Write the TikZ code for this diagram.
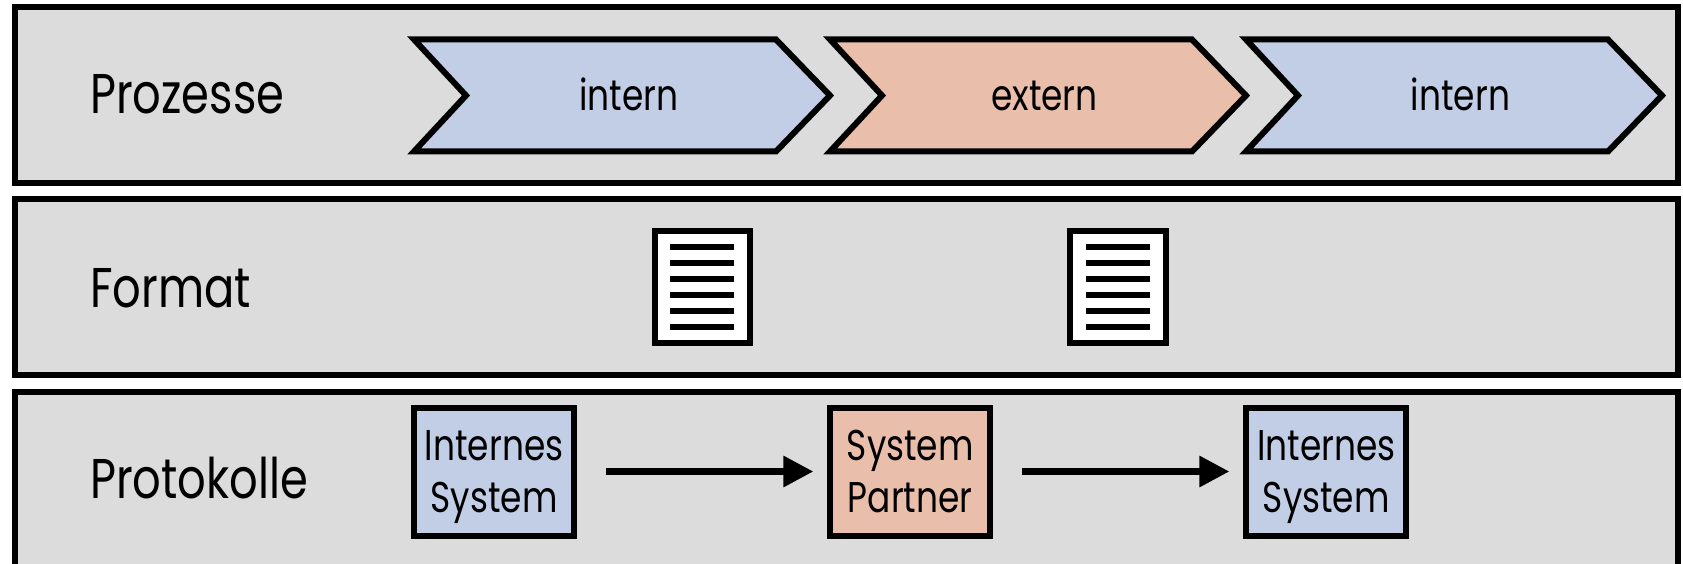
\documentclass[tikz,border=0pt]{standalone}
\usepackage{fontspec}
\setmainfont{Poppins}[FakeStretch=0.8]
\usetikzlibrary{arrows.meta}
\definecolor{panelgrey}{HTML}{DCDCDC}
\definecolor{intblue}{HTML}{C1CEE5}
\definecolor{extsalmon}{HTML}{E9BFAB}
\newcommand{\bigfont}{\fontsize{56}{60}\selectfont}
\newcommand{\smallfont}{\fontsize{43}{52}\selectfont}
\newcommand{\boxtop}{\rule{0pt}{44pt}}
\newcommand{\boxbot}{\rule[-6pt]{0pt}{6pt}}
\tikzset{
  x=1pt,y=-1pt,
  panel/.style={draw=black,fill=panelgrey,line width=6pt},
  chevron/.style={draw=black,line width=6pt,miter limit=10},
  rowlabel/.style={anchor=base west,inner sep=0pt,font=\bigfont,text=black},
  chevlabel/.style={anchor=base,inner sep=0pt,font=\smallfont,text=black},
  sysbox/.style={draw=black,line width=6pt,minimum width=160pt,minimum height=128pt,inner sep=0pt,font=\smallfont,text=black},
  boxline/.style={anchor=base,inner sep=0pt,font=\smallfont,text=black},
  docsheet/.style={draw=black,fill=white,line width=6pt,minimum width=95.5pt,minimum height=112pt,inner sep=0pt},
  docline/.style={line width=6pt,black},
  flow/.style={line width=6.5pt,black,-{Triangle[length=30pt,width=30pt]}},
}
\newcommand{\chev}[2]{\path[chevron,fill=#2] (414+#1,39.5) -- (776+#1,39.5) -- (830+#1,95.5) -- (776+#1,151.5) -- (414+#1,151.5) -- (466+#1,95.5) -- cycle;}
\newcommand{\doclines}[1]{\foreach \yy in {247.3,263.3,279.3,295.3,311.3,327.3}{\draw[docline] (#1-32,\yy) -- (#1+32,\yy);}}
\begin{document}
\begin{tikzpicture}
\useasboundingbox (0,0) rectangle (1683,564);
% panels
\path[panel] (14.5,7.5) rectangle (1678,183);
\path[panel] (14.5,199.5) rectangle (1678,375);
\fill[panelgrey] (14.5,391.5) rectangle (1678,564);
\draw[black,line width=6pt] (14.5,564) -- (14.5,391.5) -- (1678,391.5) -- (1678,564);
% row labels
\node[rowlabel] (lproz) at (90,114) {Prozesse};
\node[rowlabel] (lform) at (90,307) {Format};
\node[rowlabel] (lprot) at (90,498) {Protokolle};
% chevrons
\chev{0}{intblue}
\chev{416}{extsalmon}
\chev{832}{intblue}
\node[chevlabel] (c1) at (628.6,111) {intern};
\node[chevlabel] (c2) at (1044.5,111) {extern};
\node[chevlabel] (c3) at (1460.5,111) {intern};
% documents
\node[docsheet] (d1) at (702.3,287.4) {};
\node[docsheet] (d2) at (1118.2,287.4) {};
\doclines{702.3}
\doclines{1118.2}
% systems
\node[sysbox,fill=intblue] (s1) at (494.2,471.5) {};
\node[sysbox,fill=extsalmon] (s2) at (910.3,471.5) {};
\node[sysbox,fill=intblue] (s3) at (1326.3,471.5) {};
\node[boxline] (s1a) at (494.2,460) {Internes};
\node[boxline] (s1b) at (494.2,512) {System};
\node[boxline] (s2a) at (910.3,460) {System};
\node[boxline] (s2b) at (910.3,512) {Partner};
\node[boxline] (s3a) at (1326.3,460) {Internes};
\node[boxline] (s3b) at (1326.3,512) {System};
\draw[flow,shorten <=29pt,shorten >=14pt] (s1) -- (s2);
\draw[flow,shorten <=29pt,shorten >=14pt] (s2) -- (s3);
\end{tikzpicture}
\end{document}
